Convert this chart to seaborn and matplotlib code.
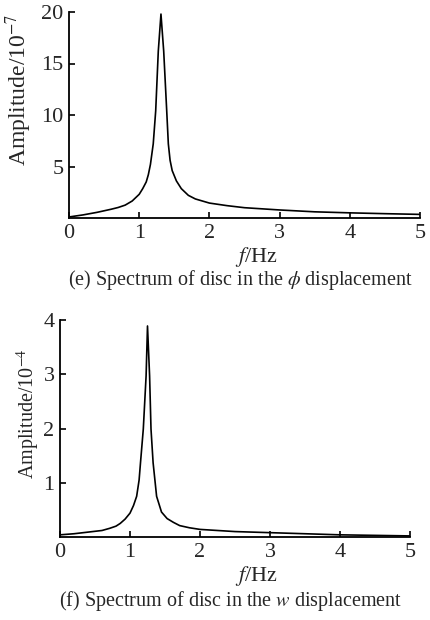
import numpy as np
import pandas as pd
import seaborn as sns
import matplotlib.pyplot as plt

### DATA ###
freq_phi = [0.0, 0.2, 0.4, 0.6, 0.7, 0.8, 0.9, 1.0, 1.05, 1.1, 1.13, 1.16, 1.2, 1.235,
            1.272, 1.31, 1.349, 1.392, 1.415, 1.44, 1.47, 1.53, 1.6, 1.7, 1.8, 2.0, 2.25,
            2.5, 3.0, 3.5, 4.0, 4.5, 5.0]
amp_phi = [0.1, 0.3, 0.55, 0.85, 1.02, 1.25, 1.65, 2.3, 2.85, 3.5, 4.2, 5.2, 7.2, 10.4,
           16.2, 19.8, 16.2, 10.4, 7.2, 5.6, 4.6, 3.6, 2.85, 2.2, 1.85, 1.45, 1.2,
           1.0, 0.78, 0.6, 0.5, 0.42, 0.35]

freq_w = [0.0, 0.2, 0.4, 0.6, 0.71, 0.8, 0.86, 0.93, 1.0, 1.05, 1.095, 1.13, 1.15,
          1.19, 1.23, 1.25, 1.28, 1.3, 1.33, 1.38, 1.45, 1.53, 1.62, 1.71, 1.85,
          2.0, 2.5, 3.0, 3.5, 4.0, 4.5, 5.0]
amp_w = [0.04, 0.06, 0.09, 0.12, 0.16, 0.2, 0.25, 0.33, 0.44, 0.58, 0.75, 1.05, 1.37,
         1.99, 2.97, 3.89, 2.97, 1.99, 1.37, 0.75, 0.46, 0.34, 0.27, 0.21, 0.17,
         0.14, 0.1, 0.08, 0.06, 0.04, 0.03, 0.02]

x_ticks = [0, 1, 2, 3, 4, 5]
y_ticks_phi = [5, 10, 15, 20]
y_ticks_w = [1, 2, 3, 4]

df_phi = pd.DataFrame({"f": freq_phi, "amp": amp_phi})
df_w = pd.DataFrame({"f": freq_w, "amp": amp_w})

### STYLE ###
sns.set_style("ticks")
plt.rcParams["font.family"] = ["Liberation Serif", "DejaVu Serif"]
plt.rcParams["mathtext.fontset"] = "stix"
plt.rcParams["xtick.direction"] = "in"
plt.rcParams["ytick.direction"] = "in"

W, H = 431, 620
fig = plt.figure(figsize=(W / 100, H / 100), dpi=100)

def px_axes(left, top, right, bottom):
    return fig.add_axes([left / W, 1 - bottom / H, (right - left) / W, (bottom - top) / H])

ax1 = px_axes(69, 12, 420, 218)
ax2 = px_axes(60, 320, 410, 537)

def style_axis(ax, yticks, ylim, ylabel, ylab_x, ylab_y, ylab_size, xlab_x, xlab_y):
    ax.set_xlim(0, 5)
    ax.set_ylim(*ylim)
    ax.set_xticks(x_ticks)
    ax.set_yticks(yticks)
    ax.tick_params(labelsize=16, length=4, width=1.2, pad=4, color="black")
    for s in ["top", "right"]:
        ax.spines[s].set_visible(False)
    for s in ["left", "bottom"]:
        ax.spines[s].set_linewidth(1.3)
        ax.spines[s].set_color("black")
    ax.set_xlabel("$f$/Hz", fontsize=16)
    ax.xaxis.set_label_coords(xlab_x, xlab_y)
    ax.set_ylabel(ylabel, fontsize=ylab_size)
    ax.yaxis.set_label_coords(ylab_x, ylab_y)

sns.lineplot(data=df_phi, x="f", y="amp", ax=ax1, color="black", linewidth=1.2)
style_axis(ax1, y_ticks_phi, (0, 20), "Amplitude/10$^{-7}$", -0.1, 0.62, 17, 0.533, -0.13)

sns.lineplot(data=df_w, x="f", y="amp", ax=ax2, color="black", linewidth=1.2)
style_axis(ax2, y_ticks_w, (0, 4), "Amplitude/10$^{-4}$", -0.05, 0.567, 14.5, 0.56, -0.125)

fig.text(240 / W, 1 - 280 / H, r"(e) Spectrum of disc in the $\phi$ displacement",
         ha="center", va="center", fontsize=14.5)
fig.text(231 / W, 1 - 601 / H, r"(f) Spectrum of disc in the $w$ displacement",
         ha="center", va="center", fontsize=14.5)

fig.savefig("out.png", dpi=100)
